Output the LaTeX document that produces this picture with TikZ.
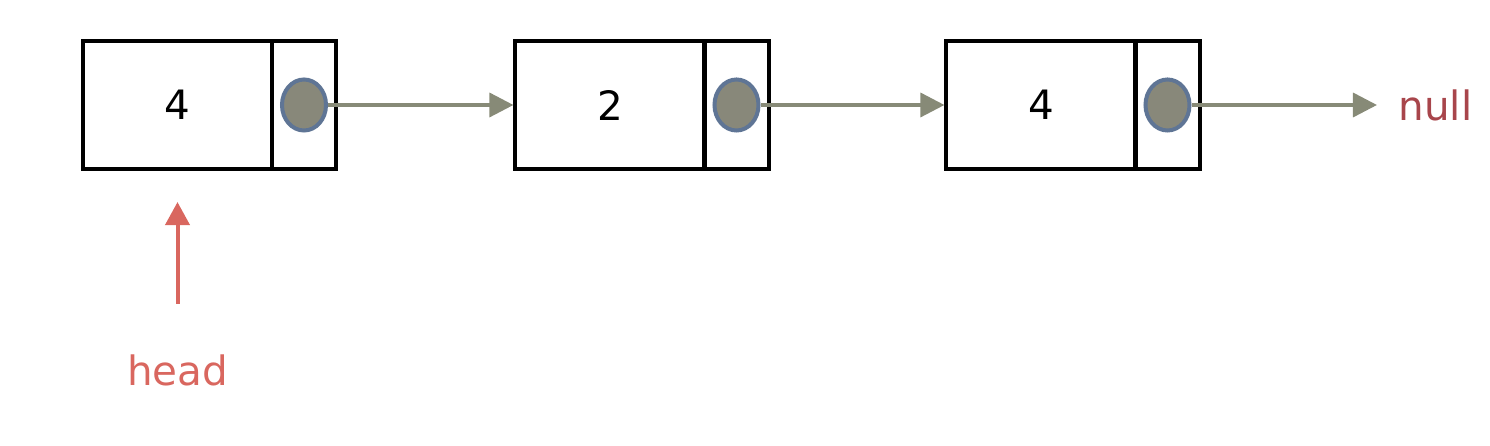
\documentclass[tikz,border=0pt]{standalone}
\usepackage{fontspec}
\setmainfont{DejaVu Sans}
\usetikzlibrary{shapes.geometric,arrows.meta}

\definecolor{ptrgray}{HTML}{878A77}
\definecolor{ptrfill}{HTML}{88887A}
\definecolor{ptrborder}{HTML}{5F7595}
\definecolor{headred}{HTML}{D9675F}
\definecolor{nullred}{HTML}{A8454B}

\tikzstyle{datacell} = [draw,line width=0.04cm,minimum width=1.89cm,minimum height=1.28cm,inner sep=0pt,font=\fontsize{11.5}{14}\selectfont]
\tikzstyle{nextcell} = [draw,line width=0.04cm,minimum width=0.64cm,minimum height=1.28cm,inner sep=0pt]
\tikzstyle{pointer} = [ellipse,draw=ptrborder,fill=ptrfill,line width=0.04cm,minimum width=0.44cm,minimum height=0.51cm,inner sep=0pt]
\tikzstyle{tag} = [inner sep=0pt,font=\fontsize{11.5}{14}\selectfont]
\tikzstyle{linkarrow} = [draw,color=ptrgray,line width=0.035cm,-{Triangle[length=0.24cm,width=0.24cm]}]
\tikzstyle{headarrow} = [draw,color=headred,line width=0.04cm,-{Triangle[length=0.23cm,width=0.24cm]}]

\begin{document}
\begin{tikzpicture}[x=0.01cm,y=-0.01cm]
    \useasboundingbox (0,0) rectangle (1490,446);
    %% list nodes
    \foreach \nodename/\value/\x/\px in {
      a/4/177.5/304,
      b/2/610/736.5,
      c/4/1041/1167.5}
    {
      \node[datacell] (\nodename) at (\x,105) {\value};
      \node[nextcell] (\nodename next) at (\px,105) {};
      \node[pointer] (\nodename ptr) at (\px,105) {};
    }
    %% labels
    \node[tag, text=nullred, anchor=west] (null) at (1398,105) {null};
    \node[tag, text=headred] (head) at (177.5,370) {head};
    %% links
    \path
    \foreach \startnode/\endnode in {
      aptr/b, bptr/c}
    {
      (\startnode) edge[linkarrow] (\endnode)
    };
    \draw[linkarrow, shorten >=0.21cm] (cptr) -- (null);
    \draw[headarrow, shorten <=0.5cm, shorten >=0.31cm] (head) -- (a);
\end{tikzpicture}
\end{document}
